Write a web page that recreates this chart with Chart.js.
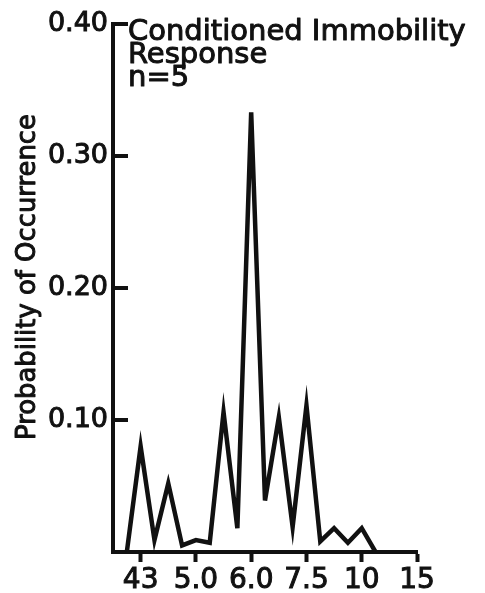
<!DOCTYPE html>
<html>
<head>
<meta charset="utf-8">
<script src="https://cdn.jsdelivr.net/npm/chart.js@4"></script>
<style>
  html, body { margin: 0; padding: 0; background: #fff; }
  #wrap { width: 485px; height: 593px; }
</style>
</head>
<body>
<div id="wrap"><canvas id="myChart" width="485" height="593"></canvas></div>
<script>
// valeurs (une valeur par classe, classes régulières)
const probability = [0, 0.080, 0.009, 0.052, 0.005, 0.009, 0.007, 0.106, 0.018, 0.333,
    0.039, 0.102, 0.019, 0.111, 0.008, 0.018, 0.007, 0.018, 0];
const tickBins = [1, 5, 9, 13, 17, 21];
const tickLabels = ["43", "5.0", "6.0", "7.5", "10", "15"];
const yTicks = [0, 0.10, 0.20, 0.30, 0.40];
const titleLines = ["Conditioned Immobility", "Response", "n=5"];
const yTitle = "Probability of Occurrence";

const FONT = "'DejaVu Sans', sans-serif";
const INK = "#111";

const points = probability.map((v, i) => ({ x: i, y: v }));

function heavyText(c, t, x, y, maxW) {
    c.fillText(t, x, y, maxW);
    c.strokeText(t, x, y, maxW);
}

// petits traits vers l'intérieur sur l'axe des y + textes
const extras = {
    id: "extras",
    afterDraw(chart) {
        const c = chart.ctx;
        const y = chart.scales.y;
        const area = chart.chartArea;
        c.save();
        c.strokeStyle = INK;
        c.lineWidth = 4;
        yTicks.forEach(v => {
            if (v === 0) return;
            const py = y.getPixelForValue(v);
            c.beginPath();
            c.moveTo(area.left, py);
            c.lineTo(area.left + 15, py);
            c.stroke();
        });
        c.fillStyle = INK;
        c.lineWidth = 1;
        c.lineJoin = "round";
        c.font = "29px " + FONT;
        c.textBaseline = "alphabetic";
        const lineY = [40, 63, 86];
        titleLines.forEach((t, i) => {
            heavyText(c, t, 128, lineY[i], i === 0 ? 342 : undefined);
        });
        // titre de l'axe y
        c.translate(28, 277);
        c.rotate(-Math.PI / 2);
        c.textAlign = "center";
        c.textBaseline = "middle";
        c.font = "27px " + FONT;
        heavyText(c, yTitle, 0, 0, 326);
        c.restore();
    }
};

new Chart(document.getElementById("myChart"), {
    type: "line",
    data: {
        datasets: [{
            data: points,
            borderColor: INK,
            borderWidth: 4.5,
            pointRadius: 0,
            tension: 0,
            fill: false,
        }],
    },
    options: {
        responsive: false,
        animation: false,
        layout: { padding: { top: 24, right: 68, left: 0, bottom: 0 } },
        plugins: { legend: { display: false }, tooltip: { enabled: false } },
        scales: {
            x: {
                type: "linear",
                min: -1,
                max: 21,
                afterFit: s => { s.height = 41; },
                afterBuildTicks: s => { s.ticks = tickBins.map(v => ({ value: v })); },
                border: { display: true, color: INK, width: 4 },
                grid: { drawOnChartArea: false, drawTicks: true, tickLength: 10, tickWidth: 4, tickColor: INK },
                ticks: {
                    color: INK,
                    textStrokeColor: INK,
                    textStrokeWidth: 1,
                    font: { family: FONT, size: 28 },
                    padding: 2,
                    maxRotation: 0,
                    autoSkip: false,
                    callback: v => tickLabels[tickBins.indexOf(v)],
                },
            },
            y: {
                min: 0,
                max: 0.40,
                afterFit: s => { s.width = 113; },
                afterBuildTicks: s => { s.ticks = yTicks.map(v => ({ value: v })); },
                border: { display: true, color: INK, width: 4 },
                grid: { drawOnChartArea: false, drawTicks: false },
                ticks: {
                    color: INK,
                    textStrokeColor: INK,
                    textStrokeWidth: 1,
                    font: { family: FONT, size: 27 },
                    padding: 5,
                    callback: v => (v === 0 ? "" : v.toFixed(2)),
                },
            },
        },
    },
    plugins: [extras],
});
</script>
</body>
</html>
